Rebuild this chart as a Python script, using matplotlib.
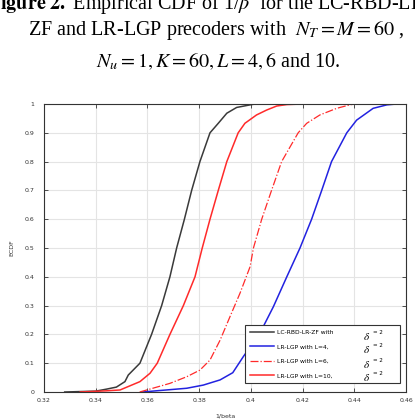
import numpy as np
import matplotlib
matplotlib.use("Agg")
import matplotlib.pyplot as plt

plt.rcParams['mathtext.fontset'] = 'stix'

# empirical CDF curves: 1/beta values and their ECDF levels
zf_x = [0.328, 0.340, 0.3442, 0.348, 0.3513, 0.3526, 0.3571, 0.3616, 0.3655, 0.3687, 0.3713,
        0.3743, 0.3771, 0.3803, 0.3842, 0.3874, 0.3907, 0.3945, 0.3997, 0.4016]
zf_y = [0.0, 0.003, 0.010, 0.017, 0.036, 0.059, 0.10, 0.20, 0.30, 0.40, 0.50,
        0.60, 0.70, 0.80, 0.90, 0.933, 0.968, 0.988, 0.997, 1.0]

l4_x = [0.358, 0.3752, 0.3816, 0.3881, 0.3930, 0.3971, 0.4035, 0.4087, 0.4139, 0.4190,
        0.4235, 0.4274, 0.4312, 0.4371, 0.4409, 0.4473, 0.4526, 0.4564]
l4_y = [0.0, 0.013, 0.024, 0.042, 0.067, 0.123, 0.204, 0.296, 0.40, 0.50,
        0.60, 0.70, 0.80, 0.90, 0.944, 0.985, 0.997, 1.0]

l6_x = [0.357, 0.3687, 0.3752, 0.3803, 0.3842, 0.3881, 0.3919, 0.3958, 0.3997, 0.4010,
        0.4042, 0.4080, 0.4119, 0.4183, 0.4216, 0.4267, 0.4332, 0.4383, 0.4400]
l6_y = [0.0, 0.030, 0.053, 0.076, 0.111, 0.18, 0.261, 0.343, 0.435, 0.50,
        0.60, 0.70, 0.80, 0.90, 0.933, 0.962, 0.985, 0.997, 1.0]

l10_x = [0.334, 0.344, 0.3494, 0.3571, 0.3610, 0.3638, 0.3687, 0.3739, 0.3784, 0.3812,
         0.3842, 0.3874, 0.3907, 0.3951, 0.3977, 0.4022, 0.4061, 0.4100, 0.4139, 0.4200]
l10_y = [0.0, 0.004, 0.007, 0.036, 0.065, 0.10, 0.20, 0.30, 0.40, 0.50,
         0.60, 0.70, 0.80, 0.90, 0.933, 0.962, 0.979, 0.993, 0.998, 1.0]

labels = ['LC-RBD-LR-ZF with', 'LR-LGP with L=4,', 'LR-LGP with L=6,', 'LR-LGP with L=10,']
x_ticks = ['0.32', '0.34', '0.36', '0.38', '0.4', '0.42', '0.44', '0.46']
y_ticks = ['0', '0.1', '0.2', '0.3', '0.4', '0.5', '0.6', '0.7', '0.8', '0.9', '1']

fig = plt.figure(figsize=(4.15, 4.19), dpi=100)
ax = fig.add_axes([44/415, 27/419, 362/415, 288/419])

ax.plot(zf_x, zf_y, color='#3a3a3a', lw=1.1, label=labels[0])
ax.plot(l4_x, l4_y, color='#2222e0', lw=1.1, label=labels[1])
ax.plot(l6_x, l6_y, color='#ff2a2a', lw=0.9, ls='-.', label=labels[2])
ax.plot(l10_x, l10_y, color='#ff2a2a', lw=1.1, label=labels[3])

ax.set_xlim(0.32, 0.46)
ax.set_ylim(0, 1)
ax.set_xticks(np.linspace(0.32, 0.46, len(x_ticks)))
ax.set_xticklabels(x_ticks)
ax.set_yticks(np.linspace(0, 1, len(y_ticks)))
ax.set_yticklabels(y_ticks)
ax.grid(True, color='#e4e4e4', lw=0.8)
ax.tick_params(direction='in', top=True, right=True, length=3, width=0.6,
               labelsize=4.5, labelcolor='#333333', color='#333333')
ax.tick_params(axis='y', pad=7)
ax.tick_params(axis='x', pad=4)
for s in ax.spines.values():
    s.set_color('#333333')
    s.set_linewidth(0.8)
ax.set_xlabel('1/beta', fontsize=4.5, color='#333333', labelpad=8)
ax.set_ylabel('ECDF', fontsize=4.5, color='#333333', labelpad=7.5)

leg = ax.legend(loc='lower left', bbox_to_anchor=(0.555, 0.031, 0.428, 0.2), mode='expand',
                fontsize=4.3, handlelength=4, labelspacing=1.55, handletextpad=0.5,
                frameon=True, fancybox=False, edgecolor='#333333', framealpha=1,
                borderaxespad=0, borderpad=0.8)
leg.get_frame().set_linewidth(0.8)

# delta = 2 annotations next to the legend entries
for yy in [0.194, 0.146, 0.097, 0.049]:
    ax.text(0.892, yy, r'$\delta$', transform=ax.transAxes, fontsize=8,
            ha='center', va='center', zorder=10)
    ax.text(0.908, yy + 0.014, '= 2', transform=ax.transAxes, fontsize=4,
            ha='left', va='center', zorder=10)

# caption above the chart
fs = 14.5
fig.text(-12/415, 1 - 9/419, r'$\bf{Figure\ 2.}$ Empirical CDF of 1/$\beta$  for the LC-RBD-LR-',
         fontsize=fs, family='Liberation Serif', ha='left', va='baseline')
fig.text(216/415, 1 - 35/419, r'ZF and LR-LGP precoders with  $N_T = M = 60$ ,',
         fontsize=fs, family='Liberation Serif', ha='center', va='baseline')
fig.text(218/415, 1 - 67/419, r'$N_u = 1, K = 60, L = 4, 6$ and 10.',
         fontsize=fs, family='Liberation Serif', ha='center', va='baseline')

fig.savefig('out.png', dpi=100)
